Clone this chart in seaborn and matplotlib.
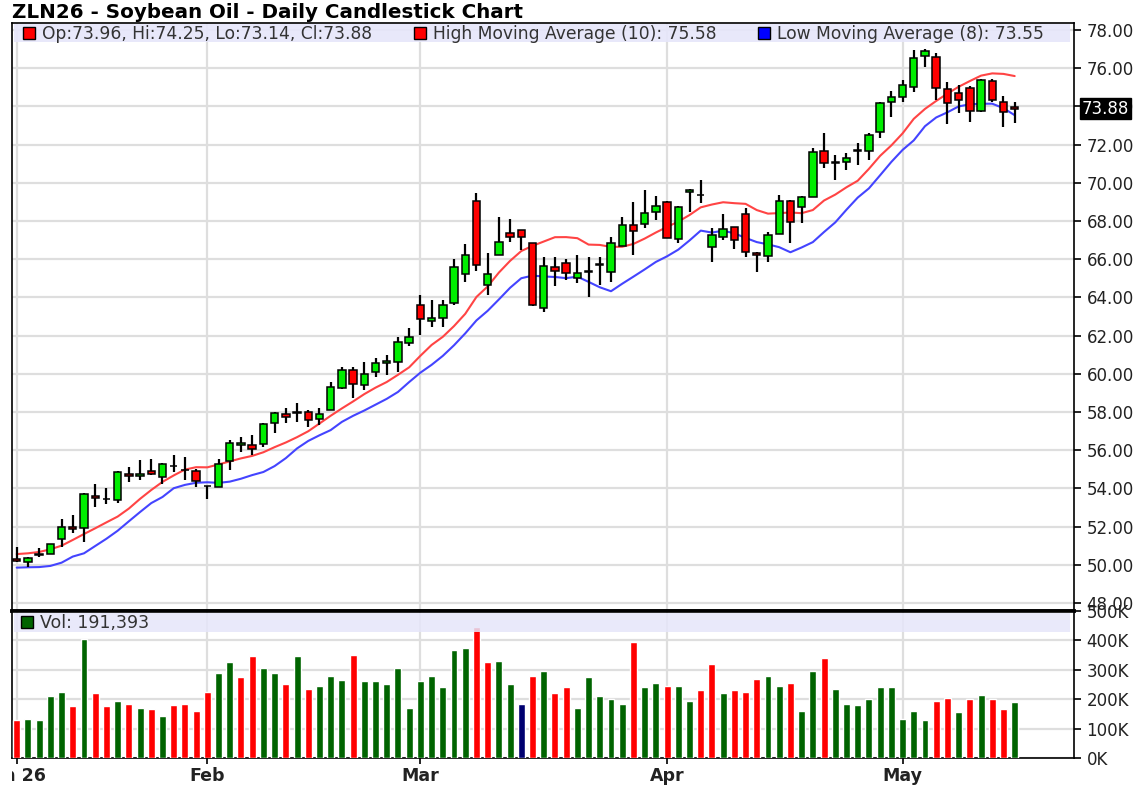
import numpy as np
import pandas as pd
import seaborn as sns
import matplotlib.pyplot as plt
from matplotlib.patches import Rectangle
from matplotlib.transforms import Bbox, blended_transform_factory

# daily OHLC (ZLN26), oldest first
opens = [50.30, 50.16, 50.52, 50.57, 51.33, 51.98, 51.93, 53.60, 53.44, 53.39,
         54.77, 54.65, 54.90, 54.61, 55.16, 54.97, 54.93, 54.13, 54.09, 55.42,
         56.25, 56.25, 56.32, 57.41, 57.88, 57.97, 57.98, 57.62, 58.11, 59.24,
         60.20, 59.41, 60.08, 60.55, 60.64, 61.60, 63.59, 62.78, 62.90, 63.69,
         65.23, 69.07, 64.65, 66.22, 67.39, 67.53, 66.83, 63.43, 65.57, 65.82,
         65.03, 65.32, 65.71, 65.31, 66.69, 67.81, 67.84, 68.49, 68.98, 67.06,
         69.50, 69.34, 66.62, 67.18, 67.67, 68.37, 66.34, 66.17, 67.32, 69.05,
         68.72, 69.24, 71.66, 71.05, 71.11, 71.67, 71.67, 72.68, 74.25, 74.51,
         75.03, 76.64, 76.57, 74.89, 74.68, 74.95, 73.78, 75.35, 74.21, 73.96]
highs = [50.95, 50.40, 50.90, 51.10, 52.38, 52.60, 53.74, 54.23, 54.00, 54.93,
         55.14, 55.49, 55.54, 55.35, 55.75, 55.66, 55.00, 54.15, 55.52, 56.53,
         56.71, 56.80, 57.44, 58.02, 58.19, 58.45, 58.10, 58.19, 59.59, 60.37,
         60.37, 60.64, 60.81, 60.98, 61.95, 62.38, 64.13, 63.86, 63.86, 65.99,
         66.78, 69.48, 66.31, 68.23, 68.09, 67.53, 66.83, 66.13, 66.13, 66.03,
         66.22, 66.13, 66.13, 67.18, 68.19, 69.01, 69.62, 69.31, 69.07, 68.80,
         69.66, 70.15, 67.62, 68.37, 67.70, 68.66, 66.36, 67.44, 69.36, 69.10,
         69.31, 71.80, 72.61, 71.46, 71.54, 72.07, 72.59, 74.25, 74.82, 75.38,
         76.95, 76.99, 76.78, 75.29, 75.12, 75.07, 75.43, 75.43, 74.55, 74.25]
lows = [50.16, 49.87, 50.40, 50.55, 50.95, 51.68, 51.21, 53.04, 53.20, 53.22,
        54.35, 54.44, 54.70, 54.23, 54.88, 54.44, 54.09, 53.43, 54.09, 54.96,
        55.92, 55.75, 56.18, 56.92, 57.41, 57.50, 57.23, 57.32, 58.10, 59.19,
        58.72, 59.15, 59.85, 59.94, 60.11, 61.47, 62.03, 62.47, 62.47, 63.60,
        64.82, 65.38, 64.13, 66.22, 66.92, 66.48, 63.55, 63.25, 64.60, 64.91,
        64.74, 64.04, 64.65, 64.83, 66.69, 66.22, 67.62, 68.05, 67.10, 66.83,
        68.49, 68.96, 65.87, 67.00, 66.52, 66.13, 65.35, 65.87, 67.32, 66.83,
        67.88, 69.24, 70.76, 70.15, 70.67, 70.93, 71.19, 72.33, 73.46, 74.25,
        74.77, 76.08, 74.34, 73.08, 73.67, 73.20, 73.72, 74.25, 72.90, 73.14]
closes = [50.20, 50.37, 50.57, 51.07, 51.98, 51.87, 53.69, 53.50, 53.46, 54.84,
          54.65, 54.77, 54.77, 55.30, 55.18, 54.95, 54.40, 54.11, 55.28, 56.36,
          56.37, 56.08, 57.37, 57.93, 57.75, 57.99, 57.58, 57.88, 59.29, 60.20,
          59.47, 59.99, 60.58, 60.68, 61.67, 61.90, 62.85, 62.92, 63.59, 65.57,
          66.22, 65.70, 65.21, 66.92, 67.15, 67.15, 63.60, 65.66, 65.40, 65.26,
          65.26, 65.36, 65.74, 66.87, 67.81, 67.48, 68.44, 68.80, 67.13, 68.75,
          69.63, 69.36, 67.27, 67.58, 67.00, 66.40, 66.22, 67.27, 69.05, 67.97,
          69.27, 71.60, 71.04, 71.07, 71.32, 71.69, 72.50, 74.16, 74.51, 75.12,
          76.52, 76.92, 74.95, 74.16, 74.34, 73.78, 75.38, 74.34, 73.69, 73.88]

# volume in thousands; bar colour class: u = up (green), d = down (red), n = unchanged (navy)
volume_k = [131, 135, 131, 210, 225, 176, 406, 220, 176, 195,
            185, 170, 166, 145, 181, 185, 160, 225, 290, 326,
            276, 347, 307, 290, 251, 347, 235, 247, 281, 266,
            351, 261, 261, 251, 307, 170, 261, 281, 241, 366,
            376, 445, 326, 331, 251, 185, 281, 297, 220, 241,
            170, 276, 210, 200, 185, 395, 241, 256, 247, 247,
            195, 231, 320, 220, 231, 225, 270, 281, 245, 256,
            160, 295, 341, 235, 185, 181, 200, 241, 241, 135,
            160, 131, 195, 205, 156, 200, 216, 200, 166, 191.393]
vol_dir = list("duuuududdu"
               "dududdddu" "u"
               "dduududuuu"
               "duuuuuuuuu"
               "udduundudd"
               "uuuuuduudu"
               "udduddduud"
               "uuduuuuuuu"
               "uuddududdu")

hma_head = [50.56, 50.60, 50.67, 50.81, 51.00, 51.30, 51.61, 51.91, 52.22]
lma_head = [49.85, 49.87, 49.88, 49.94, 50.11, 50.43, 50.60]

month_pos = [0, 17, 36, 58, 79]
month_labels = ["Jan 26", "Feb", "Mar", "Apr", "May"]
price_ticks = np.arange(48, 79, 2)

legend_text = ["Op:73.96, Hi:74.25, Lo:73.14, Cl:73.88",
               "High Moving Average (10): 75.58",
               "Low Moving Average (8): 73.55"]

df = pd.DataFrame({"o": opens, "h": highs, "l": lows, "c": closes,
                   "vol": np.array(volume_k) * 1000, "vdir": vol_dir})
df["i"] = np.arange(len(df))
df["hma"] = df["h"].rolling(10).mean()
df.loc[:len(hma_head) - 1, "hma"] = hma_head
df["lma"] = df["l"].rolling(8).mean()
df.loc[:len(lma_head) - 1, "lma"] = lma_head

sns.set_theme(style="white")
plt.rcParams["font.family"] = ["DejaVu Sans"]

W, H = 1147, 785
fig = plt.figure(figsize=(W / 100, H / 100), dpi=100)
ax = fig.add_axes([12 / W, 174 / H, 1062 / W, 588.5 / H])
axv = fig.add_axes([12 / W, 26.7 / H, 1062 / W, 147.3 / H])

grid_kw = dict(color="#dedede", lw=1.6)

# candles
up = df.c >= df.o
ax.vlines(df.i, df.l, df.h, color="black", lw=1.6, zorder=3)
ax.bar(df.i, (df.c - df.o).abs(), bottom=df[["o", "c"]].min(axis=1), width=0.66,
       color=np.where(up, "#00ee00", "#ff0000"), edgecolor="black", linewidth=1.1, zorder=4)

sns.lineplot(data=df, x="i", y="hma", color="#ff4444", lw=1.5, ax=ax, zorder=2)
sns.lineplot(data=df, x="i", y="lma", color="#4444ff", lw=1.5, ax=ax, zorder=2)

ax.set_xlim(-0.42, 94.29)
ax.set_ylim(47.58, 78.39)
ax.set_xticks(month_pos)
ax.set_yticks(price_ticks)
ax.set_yticklabels([f"{v:.2f}" for v in price_ticks])
ax.grid(True, **grid_kw)
ax.set_axisbelow(True)
ax.set_xlabel("")
ax.set_ylabel("")
ax.tick_params(axis="x", bottom=False, labelbottom=False)
ax.tick_params(axis="y", left=False, labelleft=False, right=True, labelright=True,
               direction="out", length=5, width=1.2, color="black", labelsize=12,
               labelcolor="#222222", pad=4)

for s in ax.spines.values():
    s.set_color("black")
    s.set_linewidth(1.2)
ax.spines["bottom"].set_linewidth(2.6)

# legend strip on price panel
ax.add_patch(Rectangle((0.002, 0.967), 0.994, 0.031, transform=ax.transAxes,
                       facecolor="#e6e6fa", edgecolor="none", alpha=0.9, zorder=5))
for x0, col, txt in zip([0.0156, 0.384, 0.708], ["#ff0000", "#ff0000", "#0000ff"], legend_text):
    ax.plot([x0], [0.982], marker="s", ms=8, mfc=col, mec="black", mew=1.0,
            transform=ax.transAxes, clip_on=False, zorder=6)
    ax.text(x0 + 0.0125, 0.981, txt, transform=ax.transAxes, va="center", ha="left",
            fontsize=12.3, color="#333333", zorder=6)

# last price tag
tr = blended_transform_factory(ax.transAxes, ax.transData)
ax.text(1 + 8 / 1062, closes[-1], f"{closes[-1]:.2f}", transform=tr, va="center", ha="left",
        fontsize=12, color="white", zorder=10, clip_on=False,
        bbox=dict(boxstyle="square,pad=0.1", fc="black", ec="black"))

# volume panel
sns.barplot(data=df, x="i", y="vol", hue="vdir", native_scale=True, dodge=False,
            palette={"u": "#006400", "d": "#ff0000", "n": "#000070"}, saturation=1,
            width=0.62, legend=False, ax=axv, zorder=3)
axv.set_xlim(-0.42, 94.29)
axv.set_ylim(0, 500000)
vt = np.arange(0, 500001, 100000)
axv.set_yticks(vt)
axv.set_yticklabels([f"{int(v / 1000)}K" for v in vt])
axv.set_xticks(month_pos)
axv.set_xticklabels(month_labels, fontweight="bold", fontsize=12.5, color="#222222")
axv.grid(True, **grid_kw)
axv.set_axisbelow(True)
axv.set_xlabel("")
axv.set_ylabel("")
axv.tick_params(axis="x", bottom=True, direction="out", length=4, width=1.2, color="black", pad=2)
axv.tick_params(axis="y", left=False, labelleft=False, right=True, labelright=True,
                direction="out", length=5, width=1.2, color="black", labelsize=12,
                labelcolor="#222222", pad=4)
for s in axv.spines.values():
    s.set_color("black")
    s.set_linewidth(1.2)
axv.spines["top"].set_linewidth(2.6)

axv.add_patch(Rectangle((0.002, 0.857), 0.994, 0.13, transform=axv.transAxes,
                        facecolor="#e6e6fa", edgecolor="none", alpha=0.85, zorder=5))
axv.plot([0.0141], [0.922], marker="s", ms=8, mfc="#006400", mec="black", mew=1.0,
         transform=axv.transAxes, clip_on=False, zorder=6)
axv.text(0.0265, 0.918, "Vol: 191,393", transform=axv.transAxes, va="center", ha="left",
         fontsize=12.5, color="#333333", zorder=6)

# first month label is cut at the left frame, as in the source chart
first = axv.get_xticklabels()[0]
first.set_clip_box(Bbox.from_extents(12, 0, W, H))
first.set_clip_on(True)

fig.text(12 / W, 1 - 18 / H, "ZLN26 - Soybean Oil - Daily Candlestick Chart",
         fontsize=14.3, fontweight="bold", color="black", ha="left", va="baseline")

fig.savefig("out.png", dpi=100)
